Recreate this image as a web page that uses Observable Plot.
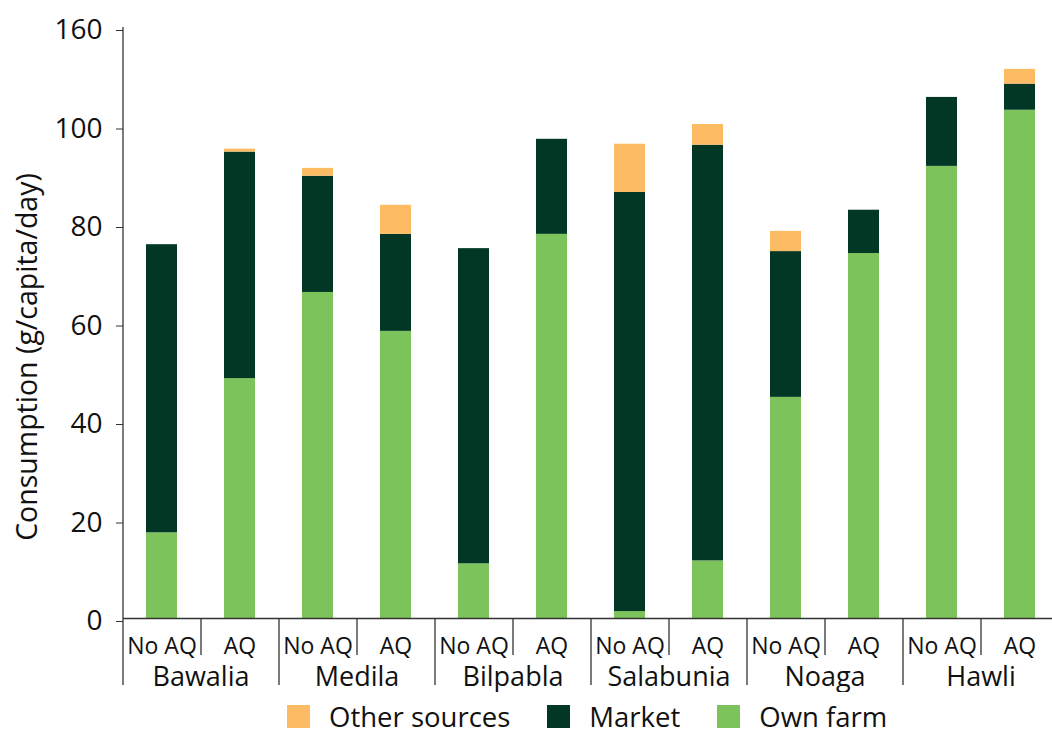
<!DOCTYPE html>
<html><head><meta charset="utf-8">
<script src="https://cdn.jsdelivr.net/npm/d3@7"></script>
<script src="https://cdn.jsdelivr.net/npm/@observablehq/plot@0.6"></script>
<style>
body{margin:0;background:#fff;font-family:"Open Sans",sans-serif;overflow:hidden}
#legend{display:flex;align-items:center;height:49px;padding-left:287px;font-size:27.5px;color:#111}
.item{display:flex;align-items:center;margin-right:37px}
.sw{width:23px;height:23px;margin-right:19px}
</style></head><body><div id="chart"></div><div id="legend"></div>
<script>
const villages = ["Bawalia","Medila","Bilpabla","Salabunia","Noaga","Hawli"];
const treatments = ["No AQ","AQ"];
const ownFarm      = [17.4, 48.7, 66.2, 58.3, 11.1, 78.0, 1.4, 11.7, 44.9, 74.1, 91.8, 103.2];
const market       = [58.5, 46.0, 23.6, 19.7, 64.0, 19.3, 85.1, 84.4, 29.6, 8.8, 14.0, 5.3];
const otherSources = [0.0, 0.6, 1.6, 5.9, 0.0, 0.0, 9.8, 4.2, 4.1, 0.0, 0.0, 3.0];
const sources = ["Own farm","Market","Other sources"];
const sourceColors = ["#7DC35C","#023726","#FDBC63"];
const legendOrder = ["Other sources","Market","Own farm"];
const yTicks = [0,20,40,60,80,100,120];
const yTickLabels = ["0","20","40","60","80","100","160"];
const yLabel = "Consumption (g/capita/day)";

const keys = villages.flatMap(v => treatments.map(t => v + "|" + t));
const series = {"Own farm": ownFarm, "Market": market, "Other sources": otherSources};
const rows = [];
keys.forEach((k, i) => sources.forEach(s => rows.push({key: k, source: s, value: series[s][i]})));
const tickLabelMap = new Map(yTicks.map((t, i) => [t, yTickLabels[i]]));
const groupStarts = villages.map(v => v + "|" + treatments[0]);
const groupMids = villages.map(v => ({key: v + "|" + treatments[1], label: v}));
const midKeys = groupMids.map(d => d.key);

const xOpts = {type: "band", domain: keys, range: [123, 1059], paddingInner: 0.6, paddingOuter: 0.3};
const xs = Plot.scale({x: xOpts});
const half = (xs.step ?? (1059 - 123) / keys.length) / 2;
const axisColor = "#333";

const chart = Plot.plot({
  width: 1052,
  height: 692,
  marginTop: 27,
  marginBottom: 74,
  marginLeft: 123,
  marginRight: 0,
  style: {fontFamily: "'Open Sans', sans-serif", color: "#111", background: "#fff"},
  x: {...xOpts, axis: null},
  y: {domain: [0, d3.max(yTicks)], axis: null},
  color: {domain: sources, range: sourceColors},
  marks: [
    Plot.barY(rows, {x: "key", y: "value", fill: "source"}),
    Plot.ruleY([0], {stroke: axisColor, strokeWidth: 1.3}),
    Plot.ruleX([keys[0]], {x: d => d, y1: 0, y2: d3.max(yTicks), dx: -half, stroke: axisColor, strokeWidth: 1.3}),
    Plot.ruleX(groupStarts, {x: d => d, y1: 0, y2: 0, insetBottom: -67, dx: -half, stroke: axisColor, strokeWidth: 1.3}),
    Plot.ruleX(midKeys, {x: d => d, y1: 0, y2: 0, insetBottom: -37, dx: -half, stroke: axisColor, strokeWidth: 1.3}),
    Plot.axisY({ticks: yTicks, tickFormat: d => tickLabelMap.get(d), tickSize: 7, tickPadding: 14, fontSize: 28, dy: 3, label: null, stroke: axisColor}),
    Plot.axisX({tickSize: 0, tickPadding: 19, tickFormat: k => k.split("|")[1], fontSize: 23, label: null}),
    Plot.text(groupMids, {x: "key", y: 0, text: "label", dx: -half, dy: 59, fontSize: 27, fill: "#111"}),
    Plot.text([yLabel], {frameAnchor: "left", textAnchor: "middle", rotate: -90, dx: -96, dy: 34, fontSize: 28.5, fill: "#111"})
  ]
});
document.getElementById("chart").appendChild(chart);

const legend = document.getElementById("legend");
legendOrder.forEach(s => {
  const item = document.createElement("div");
  item.className = "item";
  const sw = document.createElement("span");
  sw.className = "sw";
  sw.style.background = sourceColors[sources.indexOf(s)];
  const t = document.createElement("span");
  t.textContent = s;
  item.appendChild(sw); item.appendChild(t);
  legend.appendChild(item);
});
</script></body></html>
